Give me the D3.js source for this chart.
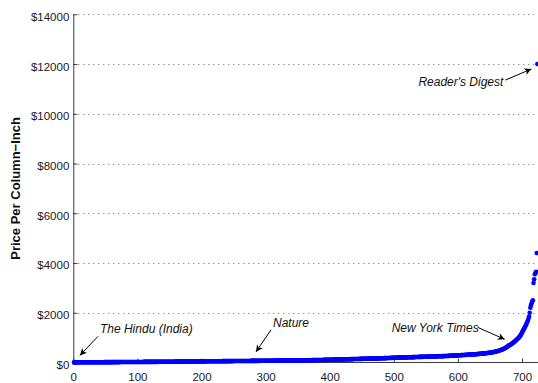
<!DOCTYPE html>
<html>
<head>
<meta charset="utf-8">
<script src="https://cdn.jsdelivr.net/npm/d3@7/dist/d3.min.js"></script>
<style>
  html, body { margin: 0; padding: 0; background: #fff; }
  svg { display: block; font-family: "Liberation Sans", Arial, Helvetica, sans-serif; }
</style>
</head>
<body>
<svg id="chart" width="538" height="383"></svg>
<script>
// Price per column-inch for each publication, sorted from cheapest to most expensive (USD)
const prices = [
  4, 5, 5, 6, 6, 6, 7, 7, 7, 7, 8, 8, 8, 8, 8, 9, 9, 9, 9, 9,
  9, 10, 10, 10, 10, 10, 10, 11, 11, 11, 11, 11, 11, 12, 12, 12, 12, 12, 12, 12,
  12, 12, 13, 13, 13, 13, 13, 13, 14, 14, 14, 14, 14, 14, 15, 15, 15, 15, 15, 15,
  15, 15, 16, 16, 16, 16, 16, 16, 17, 17, 17, 17, 17, 18, 18, 18, 18, 18, 18, 18,
  18, 19, 19, 19, 19, 19, 20, 20, 20, 20, 20, 20, 20, 21, 21, 21, 21, 22, 22, 22,
  22, 22, 22, 22, 23, 23, 23, 23, 23, 24, 24, 24, 24, 24, 24, 25, 25, 25, 25, 25,
  25, 25, 25, 26, 26, 26, 26, 26, 27, 27, 27, 27, 28, 28, 28, 28, 28, 29, 29, 29,
  29, 30, 30, 30, 30, 30, 30, 31, 31, 31, 32, 32, 32, 32, 33, 33, 33, 33, 34, 34,
  34, 34, 35, 35, 35, 35, 35, 36, 36, 36, 36, 37, 37, 37, 37, 38, 38, 38, 38, 38,
  38, 39, 39, 39, 40, 40, 40, 40, 40, 41, 41, 42, 42, 42, 43, 43, 44, 44, 45, 45,
  46, 46, 46, 47, 47, 47, 47, 48, 48, 48, 48, 49, 49, 49, 49, 50, 50, 50, 50, 50,
  50, 51, 51, 51, 52, 52, 52, 52, 53, 53, 53, 53, 54, 54, 54, 54, 55, 55, 55, 55,
  55, 56, 56, 56, 56, 57, 57, 57, 57, 58, 58, 58, 58, 59, 59, 59, 59, 60, 60, 60,
  60, 60, 60, 61, 61, 61, 61, 62, 62, 62, 62, 62, 63, 63, 63, 63, 64, 64, 64, 64,
  64, 65, 65, 65, 65, 66, 66, 66, 67, 67, 67, 68, 68, 68, 68, 69, 69, 69, 70, 70,
  70, 70, 70, 71, 71, 71, 72, 72, 72, 72, 73, 73, 73, 74, 74, 74, 74, 75, 75, 75,
  75, 75, 76, 76, 76, 77, 77, 77, 78, 78, 78, 79, 79, 79, 80, 80, 80, 80, 81, 81,
  81, 82, 82, 82, 83, 83, 84, 84, 84, 85, 85, 85, 86, 86, 86, 87, 87, 87, 88, 88,
  88, 89, 89, 90, 90, 91, 91, 92, 92, 93, 93, 94, 94, 95, 95, 96, 96, 97, 97, 98,
  98, 99, 99, 100, 100, 100, 101, 102, 102, 103, 104, 104, 105, 105, 106, 107, 107, 108, 109, 110,
  110, 111, 112, 112, 113, 114, 115, 115, 116, 117, 118, 118, 119, 120, 120, 121, 122, 123, 124, 125,
  125, 125, 126, 127, 128, 128, 129, 130, 131, 132, 132, 133, 134, 135, 135, 136, 137, 138, 139, 140,
  140, 140, 141, 142, 143, 143, 144, 145, 146, 147, 147, 148, 149, 150, 150, 151, 152, 153, 154, 155,
  155, 155, 156, 157, 158, 158, 159, 160, 160, 161, 162, 163, 164, 165, 165, 166, 167, 168, 169, 170,
  170, 171, 172, 173, 174, 175, 175, 176, 177, 178, 179, 180, 181, 182, 183, 184, 185, 186, 188, 190,
  190, 190, 191, 192, 193, 194, 195, 195, 196, 197, 198, 199, 200, 200, 201, 202, 204, 205, 206, 208,
  208, 209, 210, 210, 211, 212, 213, 214, 215, 215, 216, 217, 218, 219, 220, 220, 221, 222, 224, 225,
  225, 225, 226, 227, 228, 229, 230, 230, 231, 232, 233, 234, 235, 235, 236, 237, 238, 239, 240, 242,
  242, 243, 244, 245, 245, 246, 247, 248, 249, 250, 250, 251, 252, 253, 254, 255, 256, 257, 258, 260,
  260, 261, 262, 264, 265, 266, 268, 269, 270, 272, 273, 275, 276, 278, 280, 281, 283, 285, 288, 290,
  290, 291, 293, 294, 295, 297, 298, 300, 300, 302, 304, 305, 307, 309, 310, 312, 314, 315, 318, 320,
  320, 322, 324, 325, 327, 329, 330, 332, 335, 337, 340, 342, 345, 347, 350, 352, 355, 358, 360, 365,
  365, 368, 370, 374, 377, 380, 384, 388, 391, 395, 399, 403, 408, 412, 417, 422, 428, 434, 442, 450,
  450, 458, 465, 473, 480, 490, 500, 510, 520, 530, 542, 555, 570, 585, 600, 618, 635, 655, 675, 700,
  700, 715, 730, 750, 770, 790, 810, 830, 850, 875, 900, 925, 950, 975, 1000, 1030, 1065, 1100, 1150, 1200,
  1250, 1300, 1350, 1400, 1450, 1500, 1560, 1620, 1680, 1750, 1850, 2000, 2200, 2300, 2380, 2450, 2500, 3200, 3350, 3550,
  3600, 3650, 4400, 12000
];

// Tick values
const xTicks = [0, 100, 200, 300, 400, 500, 600, 700];
const yTicks = [0, 2000, 4000, 6000, 8000, 10000, 12000, 14000];

// Labelled publications: rank in the sorted list
const noteNames = ["The Hindu (India)", "Nature", "New York Times", "Reader's Digest"];
const noteRanks = [1, 285, 673, 724];

const svg = d3.select("#chart");
const plotLeft = 73.3, plotBottom = 362.5, plotTop = 14.3, plotRight = 538;

const x = d3.scaleLinear().domain([0, 700]).range([plotLeft, 522]);
const y = d3.scaleLinear().domain([0, 14000]).range([plotBottom, plotTop]);

// Horizontal dotted grid
svg.append("g")
  .selectAll("line")
  .data(yTicks.filter(d => d > 0))
  .join("line")
  .attr("x1", plotLeft).attr("x2", plotRight)
  .attr("y1", d => Math.round(y(d)) + 0.5).attr("y2", d => Math.round(y(d)) + 0.5)
  .attr("stroke", "#666")
  .attr("stroke-width", 1)
  .attr("stroke-dasharray", "1,4");

// Axes with inward ticks
const yAxis = d3.axisLeft(y)
  .tickValues(yTicks)
  .tickFormat(d => "$" + d)
  .tickSizeInner(-4)
  .tickSizeOuter(0)
  .tickPadding(4);

const xAxis = d3.axisBottom(x)
  .tickValues(xTicks)
  .tickFormat(d3.format("d"))
  .tickSizeInner(-4)
  .tickSizeOuter(0)
  .tickPadding(10);

const gy = svg.append("g").attr("transform", `translate(${plotLeft},0)`).call(yAxis);
const gx = svg.append("g").attr("transform", `translate(0,${plotBottom})`).call(xAxis);
gx.select(".domain").attr("d", `M${plotLeft},0H${plotRight}`);

[gx, gy].forEach(g => {
  g.selectAll(".domain, line").attr("stroke", "#3a3a3a");
  g.selectAll("text").attr("fill", "#1a1a1a").style("font-size", "11.5px");
});
gy.selectAll("text").attr("dy", "0.52em");

// Axis title, centred on the plot height
svg.append("text")
  .attr("transform", `translate(20,${(plotTop + plotBottom) / 2}) rotate(-90)`)
  .attr("text-anchor", "middle")
  .style("font-size", "13px")
  .style("font-weight", "bold")
  .attr("fill", "#111")
  .text("Price Per Column\u2212Inch");

// Data points
svg.append("g")
  .selectAll("circle")
  .data(prices)
  .join("circle")
  .attr("cx", (d, i) => x(i + 1))
  .attr("cy", d => y(d))
  .attr("r", 2.3)
  .attr("fill", "#0000ff");

// Arrowhead
svg.append("defs").append("marker")
  .attr("id", "head")
  .attr("viewBox", "0 0 10 10")
  .attr("refX", 10).attr("refY", 5)
  .attr("markerWidth", 9).attr("markerHeight", 7)
  .attr("markerUnits", "userSpaceOnUse")
  .attr("orient", "auto")
  .append("path")
  .attr("d", "M0,0L10,5L0,10L3,5Z")
  .attr("fill", "#000");

// Callout layout: arrow tip offset from the point, arrow tail and label position relative to the tip
const tipOffsets = [[6, -7], [0, -9], [0, -9], [-6, 5]];
const tailOffsets = [[18, -19], [15, -22], [-27, -12], [-26, 11]];
const labelOffsets = [[20, -22], [17, -25], [-113, -7], [-113, 17]];

noteNames.forEach((name, k) => {
  const r = noteRanks[k];
  const px = x(r) + tipOffsets[k][0];
  const py = y(prices[r - 1]) + tipOffsets[k][1];
  svg.append("line")
    .attr("x1", px + tailOffsets[k][0]).attr("y1", py + tailOffsets[k][1])
    .attr("x2", px).attr("y2", py)
    .attr("stroke", "#000").attr("stroke-width", 1)
    .attr("marker-end", "url(#head)");
  svg.append("text")
    .attr("x", px + labelOffsets[k][0]).attr("y", py + labelOffsets[k][1])
    .style("font-size", "12px")
    .style("font-style", "italic")
    .attr("fill", "#111")
    .text(name);
});
</script>
</body>
</html>
